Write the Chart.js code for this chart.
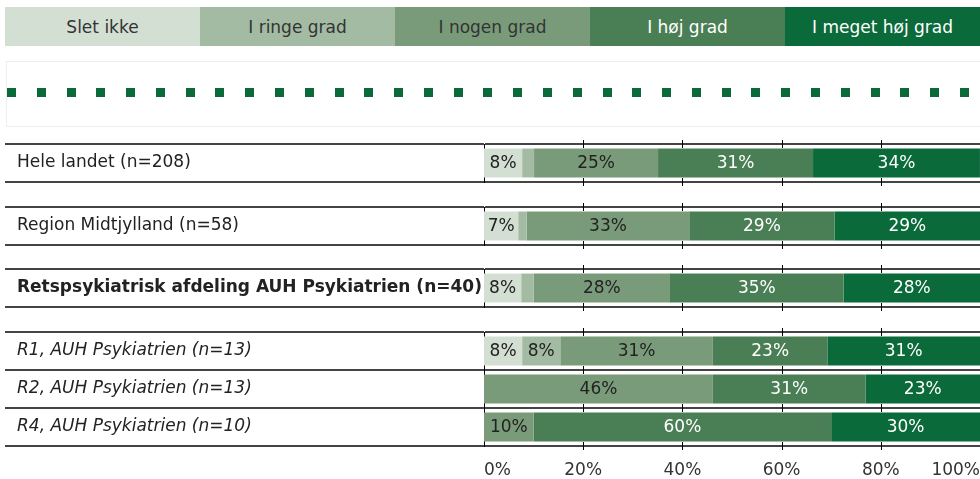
<!DOCTYPE html>
<html>
<head>
<meta charset="utf-8">
<script src="https://cdn.jsdelivr.net/npm/chart.js@4/dist/chart.umd.min.js"></script>
<style>
  html, body { margin: 0; padding: 0; background: #fff; overflow: hidden; }
  body { width: 980px; height: 479px; position: relative; font-family: "DejaVu Sans", Verdana, sans-serif; }
  #legend { position: absolute; left: 5px; top: 7px; width: 975px; height: 39px; display: flex; }
  #legend div { flex: 1; display: flex; align-items: center; justify-content: center; font-size: 17px; }
  #dots { position: absolute; left: 6px; top: 61px; width: 974px; height: 64px;
          border-top: 1px solid #eee; border-bottom: 1px solid #eee; border-left: 1px solid #eee; }
  #dots div { position: absolute; left: 0px; top: 26px; width: 972px; height: 9px;
              background: repeating-linear-gradient(90deg, #0b6a3a 0 9px, transparent 9px 29.78px); }
  canvas { position: absolute; left: 0; }
</style>
</head>
<body>
<div id="legend"></div>
<div id="dots"><div></div></div>
<canvas id="g1" width="980" height="46" style="top:140px"></canvas>
<canvas id="g2" width="980" height="46" style="top:203px"></canvas>
<canvas id="g3" width="980" height="46" style="top:265px"></canvas>
<canvas id="g4" width="980" height="153" style="top:328px"></canvas>
<script>
// rows
const rowLabels = [
  'Hele landet (n=208)',
  'Region Midtjylland (n=58)',
  'Retspsykiatrisk afdeling AUH Psykiatrien (n=40)',
  'R1, AUH Psykiatrien (n=13)',
  'R2, AUH Psykiatrien (n=13)',
  'R4, AUH Psykiatrien (n=10)'
];
// answer categories
const answers = ['Slet ikke', 'I ringe grad', 'I nogen grad', 'I høj grad', 'I meget høj grad'];
// percent per row
const sletIkke     = [7.69, 6.90, 7.5, 7.69, 0, 0];
const ringeGrad    = [2.40, 1.72, 2.5, 7.69, 0, 0];
const nogenGrad    = [25.00, 32.76, 27.5, 30.77, 46.15, 10];
const hojGrad      = [31.25, 29.31, 35.0, 23.08, 30.77, 60];
const megetHojGrad = [33.65, 29.31, 27.5, 30.77, 23.08, 30];
const xTicks = [0, 20, 40, 60, 80, 100];

const series = [sletIkke, ringeGrad, nogenGrad, hojGrad, megetHojGrad];
const fillColors = ['#d3dfd3', '#a3bba3', '#7a9b7a', '#4a7e55', '#0b6a3a'];
const labelColors = ['#222', '#222', '#222', '#fff', '#fff'];
const FONT = '"DejaVu Sans", Verdana, sans-serif';

// header legend
const legendEl = document.getElementById('legend');
answers.forEach((a, i) => {
  const d = document.createElement('div');
  d.textContent = a;
  d.style.background = fillColors[i];
  d.style.color = i < 3 ? '#333' : '#fff';
  legendEl.appendChild(d);
});

// percent labels inside the bars
const barLabels = {
  id: 'barLabels',
  afterDatasetsDraw(chart) {
    const ctx = chart.ctx;
    ctx.save();
    ctx.font = '17px ' + FONT;
    ctx.textAlign = 'center';
    ctx.textBaseline = 'middle';
    chart.data.datasets.forEach((ds, di) => {
      chart.getDatasetMeta(di).data.forEach((bar, i) => {
        const v = ds.data[i];
        if (v < 5) return;
        const p = bar.getProps(['x', 'base', 'y'], true);
        ctx.fillStyle = labelColors[di];
        ctx.fillText(Math.round(v) + '%', (p.x + p.base) / 2, p.y + 1);
      });
    });
    ctx.restore();
  }
};

// small tick marks crossing each row line
const crossTicks = {
  id: 'crossTicks',
  afterDraw(chart) {
    const ctx = chart.ctx, xs = chart.scales.x, ys = chart.scales.y;
    const n = chart.data.labels.length;
    ctx.save();
    ctx.strokeStyle = '#000';
    ctx.lineWidth = 1;
    for (let r = 0; r <= n; r++) {
      const y = Math.round(ys.getPixelForValue(r - 0.5));
      xTicks.slice(1, -1).forEach(t => {
        const x = Math.round(xs.getPixelForValue(t)) + 0.5;
        ctx.beginPath();
        ctx.moveTo(x, y - 4);
        ctx.lineTo(x, y + 4);
        ctx.stroke();
      });
    }
    ctx.restore();
  }
};

function makeChart(id, rows, fontOpts, showAxis) {
  new Chart(document.getElementById(id), {
    type: 'bar',
    data: {
      labels: rows.map(r => rowLabels[r]),
      datasets: series.map((s, i) => ({
        label: answers[i],
        data: rows.map(r => s[r]),
        backgroundColor: fillColors[i],
        borderWidth: 0,
        barPercentage: 0.76,
        categoryPercentage: 1
      }))
    },
    options: {
      indexAxis: 'y',
      responsive: false,
      animation: false,
      layout: { padding: { left: 17, right: 0, top: 4, bottom: showAxis ? 0 : 4 } },
      plugins: { legend: { display: false }, tooltip: { enabled: false } },
      scales: {
        x: {
          stacked: true,
          min: 0,
          max: 100,
          display: showAxis,
          grid: { display: false, drawTicks: false },
          border: { display: false },
          afterBuildTicks: scale => { scale.ticks = xTicks.map(v => ({ value: v })); },
          afterFit: scale => {
            scale.paddingLeft = 0;
            scale.paddingRight = 0;
            if (showAxis) scale.height = 35;
          },
          ticks: {
            align: 'inner',
            padding: 14,
            color: '#333',
            font: { family: FONT, size: 17 },
            callback: v => v + '%'
          }
        },
        y: {
          stacked: true,
          afterFit: scale => {
            scale.width = 467;
            scale.paddingTop = 0;
            scale.paddingBottom = 0;
          },
          grid: {
            offset: true,
            color: '#444',
            lineWidth: 2,
            drawTicks: true,
            tickLength: 479
          },
          border: { display: true, color: '#000', width: 1 },
          ticks: {
            crossAlign: 'far',
            padding: 0,
            color: '#222',
            font: Object.assign({ family: FONT, size: 17 }, fontOpts)
          }
        }
      }
    },
    plugins: [barLabels, crossTicks]
  });
}

makeChart('g1', [0], {}, false);
makeChart('g2', [1], {}, false);
makeChart('g3', [2], { weight: 'bold' }, false);
makeChart('g4', [3, 4, 5], { style: 'italic' }, true);
</script>
</body>
</html>
